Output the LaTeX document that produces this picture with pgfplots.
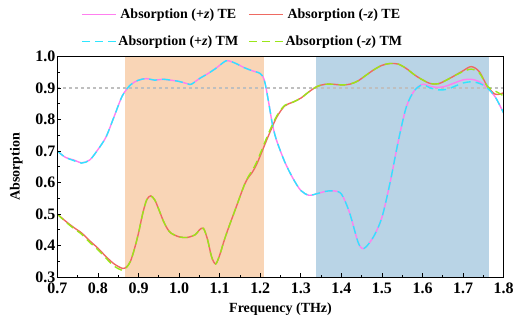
\documentclass[border=0pt]{standalone}
\usepackage{fontspec}
\setmainfont{Liberation Serif}
\usepackage{pgfplots}
\pgfplotsset{compat=1.18}
\definecolor{teplus}{HTML}{FF7FEF}
\definecolor{teminus}{HTML}{EE6A62}
\definecolor{tmplus}{HTML}{2EE6FF}
\definecolor{tmminus}{HTML}{9AE61A}
\definecolor{orangeband}{HTML}{F9D5B6}
\definecolor{blueband}{HTML}{B9D4E6}
\newcommand{\tickfont}{\fontsize{16pt}{18pt}\selectfont\bfseries}
\newcommand{\labfont}{\fontsize{14pt}{16pt}\selectfont\bfseries}
\begin{document}
\begin{tikzpicture}
\begin{axis}[
  scale only axis, width=447pt, height=221pt,
  xmin=0.7, xmax=1.8, ymin=0.3, ymax=1.0,
  xtick={0.7,0.8,0.9,1.0,1.1,1.2,1.3,1.4,1.5,1.6,1.7,1.8},
  xticklabels={\textbf{0.7},\textbf{0.8},\textbf{0.9},\textbf{1.0},\textbf{1.1},\textbf{1.2},\textbf{1.3},\textbf{1.4},\textbf{1.5},\textbf{1.6},\textbf{1.7},\textbf{1.8}},
  ytick={0.3,0.4,0.5,0.6,0.7,0.8,0.9,1.0},
  yticklabels={\textbf{0.3},\textbf{0.4},\textbf{0.5},\textbf{0.6},\textbf{0.7},\textbf{0.8},\textbf{0.9},\textbf{1.0}},
  minor x tick num=1, minor y tick num=1,
  xtick pos=left, ytick pos=left, tick align=inside,
  major tick length=4pt, minor tick length=2.5pt,
  every tick/.style={black, line width=0.9pt},
  axis line style={line width=1.3pt},
  tick label style={font=\tickfont},
  yticklabel style={xshift=1.5pt},
  xticklabel style={yshift=-2pt},
  xlabel={\labfont Frequency (THz)}, ylabel={\labfont Absorption},
  xlabel style={yshift=-2pt},
  ylabel style={at={(axis description cs:-0.092,0.5)}, anchor=center, inner ysep=10pt},
  legend columns=2,
  legend style={at={(0.415,1.0)}, anchor=south, draw=none, fill=none,
    font={\labfont}, row sep=12pt, inner ysep=7pt,
    /tikz/every even column/.append style={column sep=8pt}},
  legend image code/.code={\draw[#1] (0pt,0pt) -- (34pt,0pt);},
  clip=true, axis on top,
]
\addplot[fill=orangeband, draw=none, forget plot] coordinates {(0.866,0.3) (1.209,0.3) (1.209,1.0) (0.866,1.0)} -- cycle;
\addplot[fill=blueband, draw=none, forget plot] coordinates {(1.337,0.3) (1.763,0.3) (1.763,1.0) (1.337,1.0)} -- cycle;
\addplot[gray!50, dashed, line width=1.2pt, forget plot] coordinates {(0.7,0.9) (1.8,0.9)};

\addplot[teplus, line width=1.4pt, smooth, forget plot] coordinates {
(0.70,0.700) (0.72,0.680) (0.74,0.672) (0.76,0.663) (0.78,0.672) (0.80,0.705)
(0.82,0.745) (0.84,0.810) (0.86,0.875) (0.88,0.910) (0.90,0.925) (0.92,0.930)
(0.94,0.925) (0.96,0.928) (0.98,0.925) (1.00,0.921) (1.02,0.914) (1.03,0.912)
(1.05,0.930) (1.07,0.945) (1.09,0.962) (1.11,0.982) (1.12,0.987) (1.14,0.978)
(1.16,0.965) (1.18,0.955) (1.20,0.946) (1.21,0.925) (1.22,0.860) (1.23,0.785)
(1.24,0.735) (1.26,0.667) (1.28,0.615) (1.30,0.575) (1.32,0.560) (1.34,0.565)
(1.36,0.572) (1.38,0.574) (1.40,0.564) (1.42,0.505) (1.44,0.415) (1.45,0.392)
(1.46,0.395) (1.48,0.430) (1.50,0.490) (1.52,0.600) (1.54,0.730) (1.56,0.840)
(1.58,0.892) (1.60,0.912) (1.62,0.905) (1.64,0.902) (1.66,0.907) (1.68,0.917)
(1.70,0.926) (1.72,0.928) (1.74,0.920) (1.76,0.900) (1.78,0.870) (1.80,0.820)};

\addplot[teminus, line width=1.4pt, smooth, forget plot] coordinates {
(0.70,0.500) (0.72,0.478) (0.74,0.458) (0.76,0.440) (0.78,0.415) (0.80,0.392)
(0.82,0.365) (0.84,0.342) (0.86,0.328) (0.87,0.332) (0.88,0.350) (0.89,0.390)
(0.90,0.440) (0.91,0.500) (0.92,0.545) (0.93,0.558) (0.94,0.545) (0.95,0.515)
(0.96,0.482) (0.97,0.456) (0.98,0.440) (1.00,0.428) (1.02,0.426) (1.04,0.435)
(1.05,0.450) (1.06,0.455) (1.07,0.420) (1.08,0.365) (1.09,0.342) (1.10,0.370)
(1.11,0.412) (1.12,0.450) (1.14,0.520) (1.16,0.590) (1.17,0.615) (1.18,0.632)
(1.19,0.655) (1.20,0.685) (1.22,0.748) (1.24,0.806) (1.26,0.843) (1.28,0.855)
(1.30,0.868) (1.32,0.888) (1.34,0.905) (1.36,0.912) (1.38,0.912) (1.40,0.910)
(1.42,0.912) (1.44,0.922) (1.46,0.940) (1.48,0.958) (1.50,0.972) (1.52,0.978)
(1.54,0.976) (1.56,0.962) (1.58,0.942) (1.60,0.926) (1.62,0.914) (1.64,0.914)
(1.66,0.926) (1.68,0.940) (1.70,0.955) (1.72,0.968) (1.74,0.952) (1.76,0.905)
(1.78,0.880) (1.80,0.885)};

\addplot[tmplus, line width=1.4pt, smooth, dash pattern=on 8pt off 5pt, forget plot] coordinates {
(0.70,0.700) (0.72,0.680) (0.74,0.670) (0.76,0.662) (0.78,0.672) (0.80,0.705)
(0.82,0.745) (0.84,0.810) (0.86,0.875) (0.88,0.910) (0.90,0.925) (0.92,0.930)
(0.94,0.925) (0.96,0.928) (0.98,0.925) (1.00,0.921) (1.02,0.914) (1.03,0.912)
(1.05,0.930) (1.07,0.945) (1.09,0.962) (1.11,0.982) (1.12,0.987) (1.14,0.978)
(1.16,0.965) (1.18,0.955) (1.20,0.946) (1.21,0.925) (1.22,0.860) (1.23,0.785)
(1.24,0.735) (1.26,0.667) (1.28,0.615) (1.30,0.575) (1.32,0.560) (1.34,0.565)
(1.36,0.572) (1.38,0.574) (1.40,0.564) (1.42,0.505) (1.44,0.415) (1.45,0.392)
(1.46,0.395) (1.48,0.430) (1.50,0.490) (1.52,0.600) (1.54,0.730) (1.56,0.840)
(1.58,0.892) (1.60,0.910) (1.62,0.900) (1.64,0.894) (1.66,0.896) (1.68,0.906)
(1.70,0.916) (1.72,0.920) (1.74,0.915) (1.76,0.900) (1.78,0.870) (1.80,0.820)};

\addplot[tmminus, line width=1.4pt, smooth, dash pattern=on 8pt off 5pt, forget plot] coordinates {
(0.70,0.500) (0.72,0.476) (0.74,0.455) (0.76,0.436) (0.78,0.410) (0.80,0.387)
(0.82,0.360) (0.84,0.335) (0.86,0.322) (0.87,0.330) (0.88,0.350) (0.89,0.390)
(0.90,0.440) (0.91,0.500) (0.92,0.545) (0.93,0.558) (0.94,0.545) (0.95,0.515)
(0.96,0.482) (0.97,0.456) (0.98,0.440) (1.00,0.428) (1.02,0.426) (1.04,0.435)
(1.05,0.450) (1.06,0.455) (1.07,0.420) (1.08,0.365) (1.09,0.342) (1.10,0.370)
(1.11,0.412) (1.12,0.450) (1.14,0.520) (1.16,0.590) (1.17,0.618) (1.18,0.638)
(1.19,0.662) (1.20,0.692) (1.22,0.755) (1.24,0.810) (1.26,0.845) (1.28,0.855)
(1.30,0.868) (1.32,0.888) (1.34,0.905) (1.36,0.912) (1.38,0.912) (1.40,0.910)
(1.42,0.912) (1.44,0.922) (1.46,0.940) (1.48,0.958) (1.50,0.972) (1.52,0.978)
(1.54,0.976) (1.56,0.962) (1.58,0.942) (1.60,0.926) (1.62,0.914) (1.64,0.914)
(1.66,0.926) (1.68,0.940) (1.70,0.952) (1.72,0.960) (1.74,0.948) (1.76,0.905)
(1.78,0.890) (1.80,0.875)};

\addlegendimage{teplus, line width=1.4pt, solid}
\addlegendentry{Absorption (+\textit{z}) TE}
\addlegendimage{teminus, line width=1.4pt, solid}
\addlegendentry{Absorption (-\textit{z}) TE}
\addlegendimage{tmplus, line width=1.4pt, dash pattern=on 8pt off 5pt}
\addlegendentry{Absorption (+\textit{z}) TM}
\addlegendimage{tmminus, line width=1.4pt, dash pattern=on 8pt off 5pt}
\addlegendentry{Absorption (-\textit{z}) TM}
\end{axis}
\end{tikzpicture}
\end{document}
